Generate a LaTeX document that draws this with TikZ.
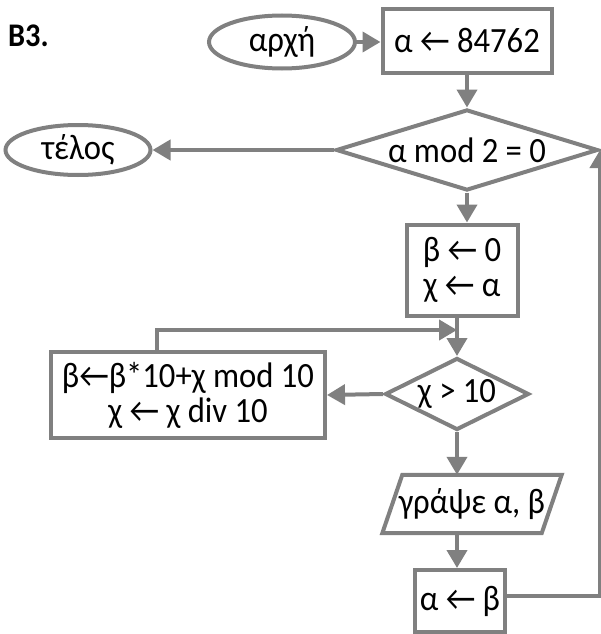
\documentclass[tikz,border=0pt]{standalone}
\usepackage{fontspec}
\setmainfont[FakeStretch=0.92]{Carlito}
\usetikzlibrary{shapes.geometric,arrows.meta}
\definecolor{flow}{RGB}{128,128,128}

\begin{document}
\begin{tikzpicture}[x=1pt,y=-1pt,
  every node/.style={font=\fontsize{35.5}{35}\selectfont, inner sep=0pt, align=center, text=black},
  line/.style={draw=flow, line width=4pt},
  arr/.style={line, -{Triangle[length=18pt,width=20pt]}},
  term/.style={ellipse, draw=flow, line width=4pt},
  proc/.style={rectangle, draw=flow, line width=4pt},
  test/.style={diamond, draw=flow, line width=4pt},
]
\useasboundingbox (0,0) rectangle (601,634);

% heading
\node[font=\bfseries\fontsize{33}{35}\selectfont, anchor=base west] (label) at (8,47) {B3.};

% blocks of the flowchart
\node[term, minimum width=146pt, minimum height=53pt] (start) at (282,42) {αρχή};
\node[proc, minimum width=169pt, minimum height=64pt] (init) at (467,41) {α ← 84762};
\node[test, aspect=3.23, minimum width=262pt, minimum height=81pt] (even) at (467,150) {α mod 2 = 0};
\node[term, minimum width=145pt, minimum height=50pt] (stop) at (78,150) {τέλος};
\node[proc, minimum width=111pt, minimum height=91pt] (setup) at (462,270) {β ← 0\\χ ← α};
\node[test, aspect=2, minimum width=144pt, minimum height=72pt] (more) at (457,394) {χ > 10};
\node[proc, minimum width=274pt, minimum height=86pt] (step) at (188,395) {β←β*10+χ mod 10\\χ ← χ div 10};
\node[minimum width=179pt, minimum height=58pt] (out) at (472,504) {γράψε α, β};
\draw[line] ([xshift=20pt]out.north west) -- (out.north east)
  -- ([xshift=-20pt]out.south east) -- (out.south west) -- cycle;
\node[proc, minimum width=90pt, minimum height=62pt] (swap) at (460,601) {α ← β};

% connectors
\coordinate (join) at (more.north |- 0,330);
\coordinate (back) at (157,352);

\draw[arr] (start.east) -- (start.east -| init.west);
\draw[arr] (init.south) -- (even.north);
\draw[arr] (even.west) -- (stop.east);
\draw[arr] (even.south) -- (even.south |- setup.north);
\draw[arr] (more.north |- setup.south) -- (more.north);
\draw[arr] (back) |- (join);
\draw[arr] (more.west) -- (step.east);
\draw[arr] (more.south) -- (more.south |- out.north);
\draw[arr] (more.south |- out.south) -- (more.south |- swap.north);
\draw[arr] (swap.east |- 0,596) -| (even.east);
\end{tikzpicture}
\end{document}
